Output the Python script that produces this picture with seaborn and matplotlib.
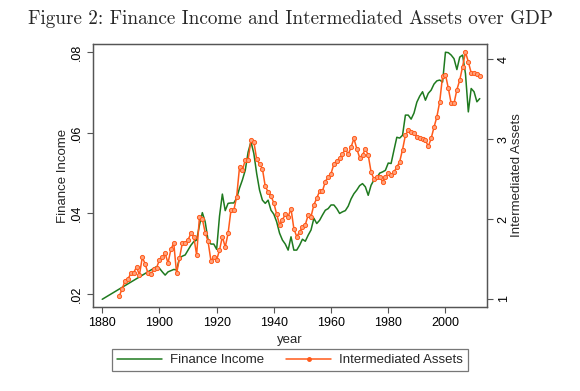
import numpy as np
import pandas as pd
import seaborn as sns
import matplotlib.pyplot as plt
from matplotlib.lines import Line2D

# finance income / GDP (left axis); early years are a straight segment in the source
fin_years = [1880] + list(range(1899, 2013))
fin_income = [
    .0187,
    .0268, .0264, .0255, .0247, .0255, .0258, .0261, .0260, .0289, .0294,
    .0297, .0309, .0321, .0330, .0334, .0371, .0402, .0379, .0334, .0324,
    .0324, .0311, .0393, .0448, .0407, .0425, .0426, .0426, .0438, .0463,
    .0483, .0507, .0552, .0578, .0549, .0499, .0458, .0433, .0425, .0433,
    .0408, .0398, .0379, .0351, .0334, .0324, .0309, .0342, .0309, .0309,
    .0321, .0336, .0331, .0346, .0359, .0388, .0375, .0383, .0396, .0408,
    .0412, .0421, .0421, .0412, .0400, .0404, .0407, .0418, .0436, .0449,
    .0458, .0469, .0474, .0466, .0445, .0470, .0483, .0488, .0500, .0503,
    .0507, .0525, .0524, .0557, .0589, .0587, .0594, .0644, .0644, .0634,
    .0649, .0676, .0691, .0702, .0681, .0698, .0706, .0721, .0729, .0731,
    .0726, .0800, .0799, .0793, .0784, .0757, .0788, .0793, .0747, .0652,
    .0710, .0702, .0677, .0685,
]

# intermediated assets / GDP (right axis)
asset_years = list(range(1886, 2013))
assets = [
    1.04, 1.13, 1.23, 1.25, 1.32, 1.33, 1.40, 1.30, 1.52, 1.44,
    1.32, 1.31, 1.37, 1.39, 1.49, 1.52, 1.57, 1.45, 1.62, 1.70,
    1.32, 1.51, 1.70, 1.70, 1.74, 1.82, 1.78, 1.55, 2.03, 2.00,
    1.83, 1.72, 1.48, 1.52, 1.49, 1.61, 1.78, 1.65, 1.82, 2.11,
    2.11, 2.28, 2.65, 2.61, 2.74, 2.74, 2.99, 2.97, 2.75, 2.69,
    2.63, 2.41, 2.34, 2.29, 2.20, 2.06, 1.93, 1.99, 2.06, 2.03,
    2.13, 1.88, 1.78, 1.84, 1.90, 1.93, 2.05, 2.03, 2.18, 2.26,
    2.35, 2.35, 2.47, 2.53, 2.57, 2.69, 2.73, 2.76, 2.81, 2.88,
    2.81, 2.90, 3.01, 2.88, 2.77, 2.80, 2.88, 2.80, 2.59, 2.50,
    2.53, 2.53, 2.47, 2.53, 2.58, 2.55, 2.59, 2.65, 2.72, 2.87,
    3.05, 3.11, 3.09, 3.08, 3.03, 3.02, 3.00, 2.99, 2.91, 3.01,
    3.15, 3.28, 3.47, 3.79, 3.81, 3.64, 3.45, 3.45, 3.62, 3.74,
    3.91, 4.09, 3.97, 3.83, 3.83, 3.82, 3.79,
]

x_ticks = [1880, 1900, 1920, 1940, 1960, 1980, 2000]
left_ticks = [.02, .04, .06, .08]
left_labels = ['.02', '.04', '.06', '.08']
right_ticks = [1, 2, 3, 4]

GREEN = '#1f7a1f'
ORANGE = '#ff5a1a'
GREY = '#555555'

sns.set_style('white')
plt.rcParams['font.family'] = ['Liberation Sans', 'DejaVu Sans']

fin_df = pd.DataFrame({'year': fin_years, 'fin': fin_income})
asset_df = pd.DataFrame({'year': asset_years, 'assets': assets})

fig = plt.figure(figsize=(5.8, 3.91), dpi=100)
ax = fig.add_axes([0.160, 0.215, 0.680, 0.672])
ax2 = ax.twinx()

sns.lineplot(data=fin_df, x='year', y='fin', ax=ax, color=GREEN, lw=1.1)
sns.lineplot(data=asset_df, x='year', y='assets', ax=ax2, color=ORANGE, lw=1.1,
             marker='o', markersize=3.0, markerfacecolor='#ffa27c',
             markeredgecolor=ORANGE, markeredgewidth=0.7)

ax.set_xlim(1876.7, 2014.6)
ax.set_ylim(.0168, .0820)
ax2.set_ylim(0.9, 4.19)

ax.set_xticks(x_ticks)
ax.set_yticks(left_ticks)
ax.set_yticklabels(left_labels, rotation=90, va='center')
ax2.set_yticks(right_ticks)
ax2.set_yticklabels([str(t) for t in right_ticks], rotation=90, va='center')

for a in (ax, ax2):
    for s in a.spines.values():
        s.set_color(GREY)
        s.set_linewidth(0.9)
    a.tick_params(colors='black', labelsize=9, length=4, width=0.8,
                  direction='out', color=GREY)
ax.tick_params(axis='both', left=True, bottom=True)
ax2.tick_params(axis='y', right=True)

ax.set_xlabel('year', fontsize=9.5, labelpad=3)
ax.set_ylabel('Finance Income', fontsize=9.5, labelpad=1)
ax2.set_ylabel('Intermediated Assets', fontsize=9.5, labelpad=1, rotation=90)

fig.suptitle('Figure 2: Finance Income and Intermediated Assets over GDP',
             x=0.5, y=0.975, fontsize=13.8, family='cmr10')

handles = [
    Line2D([], [], color=GREEN, lw=1.1),
    Line2D([], [], color=ORANGE, lw=1.1, marker='o', markersize=2.5,
           markerfacecolor=ORANGE),
]
leg = fig.legend(handles, ['Finance Income', 'Intermediated Assets'],
                 loc='center', bbox_to_anchor=(0.5, 0.079), ncol=2,
                 fontsize=9.5, frameon=True, fancybox=False,
                 handlelength=3.4, handletextpad=0.6, columnspacing=1.7,
                 borderpad=0.35)
leg.get_frame().set_edgecolor(GREY)
leg.get_frame().set_linewidth(0.9)

fig.savefig('out.png', dpi=100)
